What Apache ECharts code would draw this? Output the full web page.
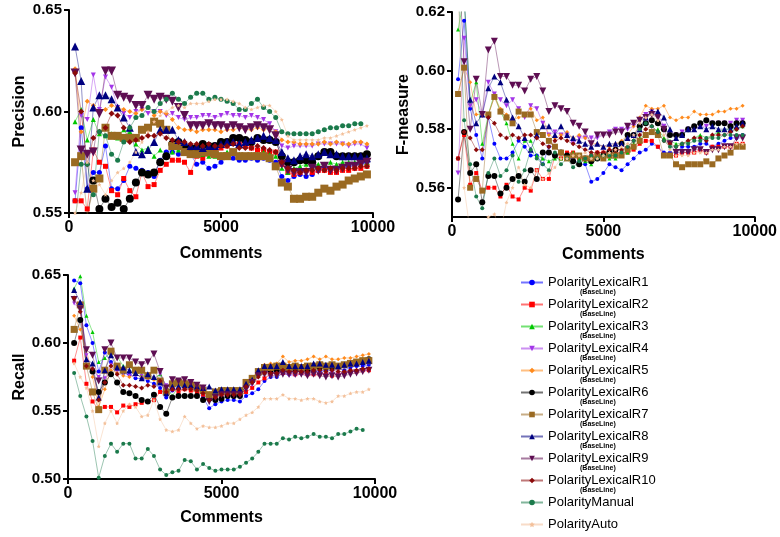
<!DOCTYPE html>
<html>
<head>
<meta charset="utf-8">
<script src="https://cdn.jsdelivr.net/npm/echarts@6/dist/echarts.min.js"></script>
<style>
html, body { margin: 0; padding: 0; background: #fff; }
#main { width: 780px; height: 537px; }
</style>
</head>
<body>
<div id="main"></div>
<script>
// comment counts (x)
var comments = [200,400,600,800,1000,1200,1400,1600,1800,2000,2200,2400,2600,2800,3000,3200,3400,3600,3800,4000,
	4200,4400,4600,4800,5000,5200,5400,5600,5800,6000,6200,6400,6600,6800,7000,7200,7400,7600,7800,8000,
	8200,8400,8600,8800,9000,9200,9400,9600,9800];

var names = ['PolarityLexicalR1','PolarityLexicalR2','PolarityLexicalR3','PolarityLexicalR4','PolarityLexicalR5',
	'PolarityLexicalR6','PolarityLexicalR7','PolarityLexicalR8','PolarityLexicalR9','PolarityLexicalR10',
	'PolarityManual','PolarityAuto'];
var subTags = ['(BaseLine)','(BaseLine)','(BaseLine)','(BaseLine)','(BaseLine)',
	'(BaseLine)','(BaseLine)','(BaseLine)','(BaseLine)','(BaseLine)'];

// Precision
var pR1 = [.556,.592,.562,.570,.570,.583,.562,.562,.566,.573,.572,.571,.570,.568,.576,.580,.580,.579,.581,.579,
	.574,.575,.572,.573,.575,.578,.577,.576,.576,.577,.576,.577,.576,.575,.568,.566,.568,.569,.568,.569,
	.571,.572,.571,.572,.572,.573,.574,.574,.575];
var pR2 = [.556,.556,.552,.581,.575,.573,.561,.559,.567,.561,.558,.570,.563,.564,.571,.574,.576,.576,.575,.570,
	.578,.577,.579,.580,.582,.583,.585,.584,.583,.582,.581,.581,.580,.580,.574,.570,.569,.570,.571,.570,
	.571,.571,.570,.570,.571,.571,.572,.572,.573];
var pR3 = [.595,.601,.586,.596,.589,.588,.589,.587,.591,.590,.584,.581,.582,.578,.581,.579,.580,.581,.582,.581,
	.580,.579,.578,.578,.579,.580,.580,.579,.578,.579,.579,.580,.579,.578,.572,.570,.572,.573,.574,.573,
	.574,.574,.575,.574,.575,.575,.575,.575,.575];
var pR4 = [.560,.598,.596,.618,.601,.617,.612,.602,.599,.597,.600,.601,.599,.600,.600,.598,.599,.597,.596,.597,
	.597,.598,.598,.597,.598,.599,.598,.598,.597,.598,.597,.596,.594,.590,.583,.582,.583,.583,.583,.583,
	.584,.584,.584,.584,.584,.583,.584,.584,.582];
var pR5 = [.621,.590,.605,.603,.600,.601,.603,.602,.601,.600,.599,.601,.602,.598,.600,.599,.596,.592,.591,.591,
	.590,.591,.591,.591,.590,.591,.591,.592,.591,.591,.592,.591,.592,.590,.586,.585,.585,.584,.584,.584,
	.584,.585,.584,.585,.584,.584,.585,.585,.584];
var pR6 = [.540,.545,.548,.566,.552,.557,.553,.555,.552,.557,.565,.570,.569,.570,.575,.578,.584,.585,.582,.582,
	.582,.584,.583,.583,.585,.585,.587,.587,.586,.585,.587,.586,.586,.585,.578,.575,.575,.576,.576,.575,
	.578,.580,.580,.578,.578,.578,.578,.578,.579];
var pR7 = [.575,.578,.549,.562,.567,.592,.588,.588,.587,.587,.587,.591,.592,.595,.594,.591,.583,.583,.580,.579,
	.579,.580,.580,.579,.578,.578,.580,.578,.578,.578,.578,.578,.577,.573,.565,.563,.557,.557,.558,.558,
	.560,.562,.561,.563,.564,.566,.567,.568,.569];
var pR8 = [.632,.615,.562,.602,.608,.608,.606,.602,.597,.592,.580,.579,.581,.585,.591,.591,.591,.586,.585,.583,
	.583,.582,.583,.583,.584,.585,.585,.584,.585,.586,.587,.588,.587,.586,.580,.577,.576,.578,.579,.578,
	.579,.580,.579,.579,.578,.578,.578,.578,.577];
var pR9 = [.619,.581,.579,.580,.599,.620,.620,.608,.607,.606,.603,.603,.608,.606,.607,.606,.605,.602,.598,.593,
	.593,.593,.594,.593,.593,.592,.593,.592,.591,.592,.593,.592,.591,.588,.574,.571,.570,.570,.570,.572,
	.571,.573,.571,.571,.572,.573,.573,.574,.575];
var pR10 = [.619,.600,.574,.587,.590,.592,.599,.598,.592,.585,.586,.587,.588,.588,.589,.587,.586,.585,.585,.584,
	.584,.583,.584,.583,.583,.583,.584,.582,.582,.582,.583,.582,.581,.580,.575,.572,.571,.570,.571,.571,
	.572,.571,.572,.571,.572,.572,.572,.573,.573];
var pManual = [.545,.574,.574,.559,.590,.588,.579,.576,.585,.592,.597,.598,.602,.600,.604,.606,.609,.606,.604,.607,
	.609,.609,.606,.607,.606,.605,.604,.601,.601,.604,.606,.602,.600,.597,.590,.589,.589,.589,.589,.589,
	.590,.591,.592,.592,.593,.593,.594,.594,null];
var pAuto = [.550,.560,.575,.566,.564,.559,.566,.570,.572,.575,.580,.585,.590,.595,.598,.600,.602,.603,.602,.604,
	.604,.604,.605,.606,.606,.606,.605,.604,.602,.601,.602,.603,.603,.600,.596,.588,.586,.586,.586,.586,
	.586,.587,.587,.588,.589,.590,.591,.592,.593];

// F-measure
var fR1 = [.597,.617,.587,.578,.570,.584,.575,.570,.570,.572,.576,.574,.571,.571,.568,.574,.574,.572,.570,.570,
	.568,.568,.562,.563,.565,.568,.567,.566,.568,.570,.572,.573,.575,.574,.572,.572,.572,.574,.574,.574,
	.575,.575,.574,.575,.576,.577,.577,.578];
var fR2 = [.570,.578,.561,.565,.559,.560,.560,.557,.561,.557,.556,.560,.559,.566,.563,.563,.571,.570,.572,.572,
	.570,.570,.571,.572,.572,.572,.572,.572,.572,.573,.575,.576,.576,.574,.571,.571,.571,.572,.572,.572,
	.573,.572,.574,.574,.574,.574,.575,.575];
var fR3 = [.614,.625,.589,.596,.575,.585,.592,.586,.582,.575,.570,.576,.576,.571,.570,.569,.570,.570,.571,.572,
	.570,.569,.568,.570,.571,.570,.570,.571,.572,.575,.577,.578,.579,.580,.577,.576,.575,.575,.576,.577,
	.578,.577,.578,.579,.580,.580,.580,.581];
var fR4 = [.565,.611,.588,.590,.585,.596,.592,.590,.588,.590,.587,.584,.588,.587,.582,.578,.579,.578,.578,.575,
	.577,.577,.577,.577,.578,.579,.580,.580,.580,.581,.583,.585,.586,.585,.581,.578,.578,.579,.580,.580,
	.581,.581,.582,.582,.582,.582,.583,.583];
var fR5 = [.592,.601,.596,.585,.585,.585,.591,.587,.585,.583,.584,.585,.587,.583,.584,.578,.577,.578,.579,.577,
	.578,.577,.575,.575,.574,.574,.575,.576,.578,.581,.584,.588,.587,.587,.588,.584,.583,.584,.584,.586,
	.585,.585,.585,.586,.586,.587,.587,.588];
var fR6 = [.556,.579,.565,.568,.555,.564,.564,.558,.560,.563,.564,.562,.566,.563,.572,.572,.571,.572,.571,.569,
	.568,.570,.569,.570,.571,.572,.573,.575,.578,.578,.581,.582,.583,.582,.580,.578,.578,.578,.580,.581,
	.582,.583,.582,.582,.582,.581,.582,.582];
var fR7 = [.592,.601,.560,.563,.559,.585,.591,.586,.584,.582,.586,.585,.585,.579,.578,.576,.574,.572,.570,.571,
	.571,.570,.570,.571,.570,.571,.571,.571,.573,.574,.576,.578,.579,.578,.571,.571,.568,.567,.568,.568,
	.568,.569,.568,.570,.571,.572,.574,.574];
var fR8 = [.625,.625,.590,.582,.585,.594,.598,.596,.590,.584,.581,.577,.573,.578,.581,.581,.578,.581,.578,.577,
	.576,.575,.574,.575,.574,.575,.575,.575,.577,.578,.580,.584,.586,.586,.584,.580,.577,.578,.580,.580,
	.581,.580,.581,.580,.580,.580,.581,.582];
var fR9 = [.640,.603,.580,.597,.585,.607,.610,.598,.598,.595,.595,.593,.597,.598,.593,.586,.588,.587,.586,.582,
	.581,.579,.575,.578,.578,.578,.579,.579,.581,.582,.583,.584,.585,.584,.580,.575,.572,.572,.572,.573,
	.573,.572,.573,.573,.574,.574,.577,.577];
var fR10 = [.570,.579,.577,.573,.573,.584,.582,.578,.577,.578,.577,.578,.578,.577,.575,.574,.576,.577,.576,.575,
	.574,.573,.572,.572,.572,.573,.573,.573,.574,.576,.578,.580,.581,.579,.576,.575,.574,.575,.576,.577,
	.577,.576,.578,.578,.578,.579,.580,.581];
var fManual = [.630,.583,.568,.557,.553,.565,.570,.564,.566,.571,.562,.566,.573,.570,.568,.566,.572,.568,.570,.567,
	.569,.570,.571,.570,.571,.571,.571,.572,.574,.576,.580,.582,.581,.579,.576,.574,.574,.575,.575,.576,
	.576,.577,.577,.577,.578,.578,.578,.578];
var fAuto = [.630,.560,.545,.548,.540,.550,.551,.545,.555,.560,.567,.561,.560,.566,.563,.565,.567,.570,.570,.571,
	.571,.572,.570,.570,.571,.572,.573,.574,.575,.578,.582,.584,.585,.583,.578,.573,.571,.571,.571,.572,
	.572,.572,.573,.573,.574,.574,.575,.575];

// Recall
var rR1 = [.646,.644,.613,.600,.579,.593,.586,.581,.578,.577,.574,.574,.572,.570,.567,.560,.565,.567,.568,.567,
	.564,.560,.552,.555,.557,.558,.558,.557,.561,.563,.566,.572,.575,.575,.578,.577,.579,.581,.579,.580,
	.579,.580,.580,.581,.580,.582,.583,.583,.584];
var rR2 = [.587,.604,.570,.557,.551,.553,.553,.549,.554,.553,.555,.556,.557,.558,.564,.565,.566,.564,.566,.565,
	.564,.562,.559,.561,.562,.562,.561,.561,.564,.567,.571,.574,.577,.578,.578,.578,.577,.578,.577,.577,
	.577,.577,.576,.577,.578,.579,.579,.580,.580];
var rR3 = [.640,.649,.620,.608,.586,.589,.593,.590,.583,.583,.578,.577,.575,.574,.577,.568,.561,.568,.569,.568,
	.566,.564,.563,.564,.564,.563,.563,.563,.568,.571,.577,.582,.582,.583,.585,.583,.583,.583,.583,.584,
	.584,.583,.584,.583,.583,.586,.586,.588,.588];
var rR4 = [.629,.625,.591,.580,.575,.574,.584,.579,.578,.576,.576,.576,.574,.573,.577,.569,.566,.570,.568,.568,
	.567,.566,.558,.558,.560,.561,.562,.562,.566,.569,.575,.579,.579,.579,.578,.576,.576,.577,.576,.577,
	.577,.578,.578,.577,.578,.579,.579,.580,.580];
var rR5 = [.620,.610,.595,.575,.553,.566,.580,.578,.576,.575,.577,.575,.574,.573,.573,.568,.570,.570,.570,.570,
	.569,.568,.563,.564,.565,.565,.565,.565,.570,.574,.580,.584,.585,.585,.590,.586,.587,.587,.588,.590,
	.588,.590,.588,.588,.589,.589,.590,.591,.592];
var rR6 = [.600,.617,.583,.579,.564,.571,.577,.571,.564,.563,.561,.558,.557,.562,.553,.548,.560,.561,.561,.561,
	.561,.558,.559,.558,.559,.561,.561,.561,.569,.573,.578,.580,.580,.580,.581,.580,.581,.580,.580,.582,
	.582,.582,.582,.583,.584,.585,.586,.587,.588];
var rR7 = [.610,.628,.583,.564,.551,.580,.594,.583,.580,.584,.580,.580,.576,.580,.572,.564,.570,.571,.570,.569,
	.567,.565,.562,.564,.565,.565,.565,.565,.571,.574,.579,.582,.582,.583,.583,.582,.583,.582,.583,.583,
	.584,.583,.584,.583,.584,.585,.586,.587,.587];
var rR8 = [.639,.630,.588,.585,.560,.580,.591,.582,.582,.580,.578,.574,.577,.575,.571,.563,.568,.568,.569,.569,
	.568,.567,.568,.565,.566,.566,.566,.566,.570,.573,.580,.583,.583,.583,.586,.583,.583,.583,.583,.585,
	.585,.584,.584,.583,.584,.585,.585,.586,.587];
var rR9 = [.632,.625,.595,.591,.572,.595,.600,.589,.589,.589,.586,.584,.586,.592,.579,.567,.573,.572,.573,.571,
	.569,.567,.557,.560,.562,.562,.562,.562,.566,.571,.576,.577,.576,.576,.577,.577,.577,.577,.576,.577,
	.576,.575,.576,.575,.576,.577,.578,.579,.580];
var rR10 = [.633,.623,.583,.581,.558,.571,.583,.577,.569,.569,.568,.567,.569,.568,.572,.564,.566,.566,.566,.566,
	.565,.563,.558,.560,.562,.562,.562,.562,.568,.571,.575,.578,.578,.578,.580,.579,.579,.579,.579,.580,
	.580,.579,.580,.579,.579,.580,.580,.581,.581];
var rManual = [.578,.561,.546,.528,.501,.517,.526,.520,.526,.526,.515,.515,.522,.517,.507,.503,.505,.506,.514,.513,
	.507,.511,.508,.506,.507,.507,.507,.509,.512,.515,.520,.526,.526,.526,.530,.529,.531,.530,.531,.533,
	.531,.531,.530,.533,.533,.535,.537,.536,null];
var rAuto = [.585,.575,.567,.550,.524,.541,.550,.541,.550,.555,.553,.546,.547,.558,.544,.536,.535,.536,.546,.541,
	.537,.539,.538,.538,.539,.541,.541,.544,.547,.549,.553,.559,.559,.559,.562,.559,.559,.558,.559,.559,
	.557,.556,.557,.561,.561,.563,.564,.564,.566];

var colors = ['#0000ff','#ff0000','#00c800','#a335e8','#ff8a1c','#000000','#9a6a22','#000080','#5e0e52','#8b0a0a','#1b7a4b','#f3c09a'];
var symbols = ['circle','rect','triangle','triangle','diamond','circle','rect','triangle','triangle','diamond','circle',
	'path://M0,-10L2.9,-4L9.5,-3.1L4.7,1.5L5.9,8.1L0,5L-5.9,8.1L-4.7,1.5L-9.5,-3.1L-2.9,-4Z'];
var rotates = [0,0,0,180,0,0,0,0,180,0,0,0];

var font = "'Liberation Sans', Arial, sans-serif";

var panels = [
	{ title: 'Precision', rows: [pR1,pR2,pR3,pR4,pR5,pR6,pR7,pR8,pR9,pR10,pManual,pAuto],
		grid: { left: 69, top: 10, width: 304, height: 203 }, min: 0.55, max: 0.65, ticks: [0.55,0.60,0.65],
		nameGap: 41, xNameGap: 33, sizes: [5,5,5,5,5,8,8,8,9,6,5,4] },
	{ title: 'F-measure', rows: [fR1,fR2,fR3,fR4,fR5,fR6,fR7,fR8,fR9,fR10,fManual,fAuto],
		grid: { left: 452, top: 12, width: 308, height: 205 }, min: 0.55, max: 0.62, ticks: [0.56,0.58,0.60,0.62],
		nameGap: 39, xNameGap: 30, sizes: [4,4,4,5,4,6,6,6,7,5,4,4] },
	{ title: 'Recall', rows: [rR1,rR2,rR3,rR4,rR5,rR6,rR7,rR8,rR9,rR10,rManual,rAuto],
		grid: { left: 68, top: 275, width: 307, height: 204 }, min: 0.50, max: 0.65, ticks: [0.50,0.55,0.60,0.65],
		nameGap: 37, xNameGap: 31, sizes: [4,4,4,4,4,6,7,6,7,5,4,4] }
];

var axisLine = { show: true, onZero: false, lineStyle: { color: '#000', width: 2 } };
var axisTick = { show: true, inside: false, length: 5, lineStyle: { color: '#000', width: 2 } };

var grids = [], xAxes = [], yAxes = [], series = [];
panels.forEach(function(p, g) {
	grids.push(p.grid);
	xAxes.push({
		gridIndex: g, type: 'value', min: 0, max: 10000, interval: 5000,
		name: 'Comments', nameLocation: 'middle', nameGap: p.xNameGap,
		nameTextStyle: { fontFamily: font, fontSize: 16, fontWeight: 'bold', color: '#000' },
		axisLine: axisLine, axisTick: axisTick, splitLine: { show: false },
		axisLabel: { fontFamily: font, fontSize: 16, fontWeight: 'bold', color: '#000', margin: 7,
			formatter: function(v) { return String(v); } }
	});
	yAxes.push({
		gridIndex: g, type: 'value', min: p.min, max: p.max,
		name: p.title, nameLocation: 'middle', nameGap: p.nameGap,
		nameTextStyle: { fontFamily: font, fontSize: 16, fontWeight: 'bold', color: '#000' },
		axisLine: axisLine, splitLine: { show: false },
		axisTick: Object.assign({ customValues: p.ticks }, axisTick),
		axisLabel: { customValues: p.ticks, fontFamily: font, fontSize: 15, fontWeight: 'bold', color: '#000', margin: 7,
			formatter: function(v) { return v.toFixed(2); } }
	});
	p.rows.forEach(function(vals, k) {
		var pts = [];
		for (var i = 0; i < comments.length; i++) {
			if (vals[i] != null) pts.push([comments[i], vals[i]]);
		}
		series.push({
			name: names[k], type: 'line', xAxisIndex: g, yAxisIndex: g,
			data: pts, symbol: symbols[k], symbolRotate: rotates[k], symbolSize: p.sizes[k],
			showAllSymbol: true, clip: true, animation: false,
			itemStyle: { color: colors[k] },
			lineStyle: { color: colors[k], width: 0.8, opacity: 0.55 }
		});
	});
});

var tagTexts = subTags.map(function(t, k) {
	return { type: 'text', left: 580, top: 289 + 22 * k,
		style: { text: t, font: 'bold 7px ' + font, fill: '#000' } };
});

var chart = echarts.init(document.getElementById('main'), null, { renderer: 'canvas' });
chart.setOption({
	backgroundColor: '#fff',
	animation: false,
	grid: grids,
	xAxis: xAxes,
	yAxis: yAxes,
	legend: {
		orient: 'vertical', left: 520, top: 276, padding: 0, height: 261,
		itemWidth: 22, itemHeight: 7, itemGap: 9,
		textStyle: { fontFamily: font, fontSize: 13, color: '#000' },
		data: names
	},
	graphic: tagTexts,
	series: series
});
</script>
</body>
</html>
